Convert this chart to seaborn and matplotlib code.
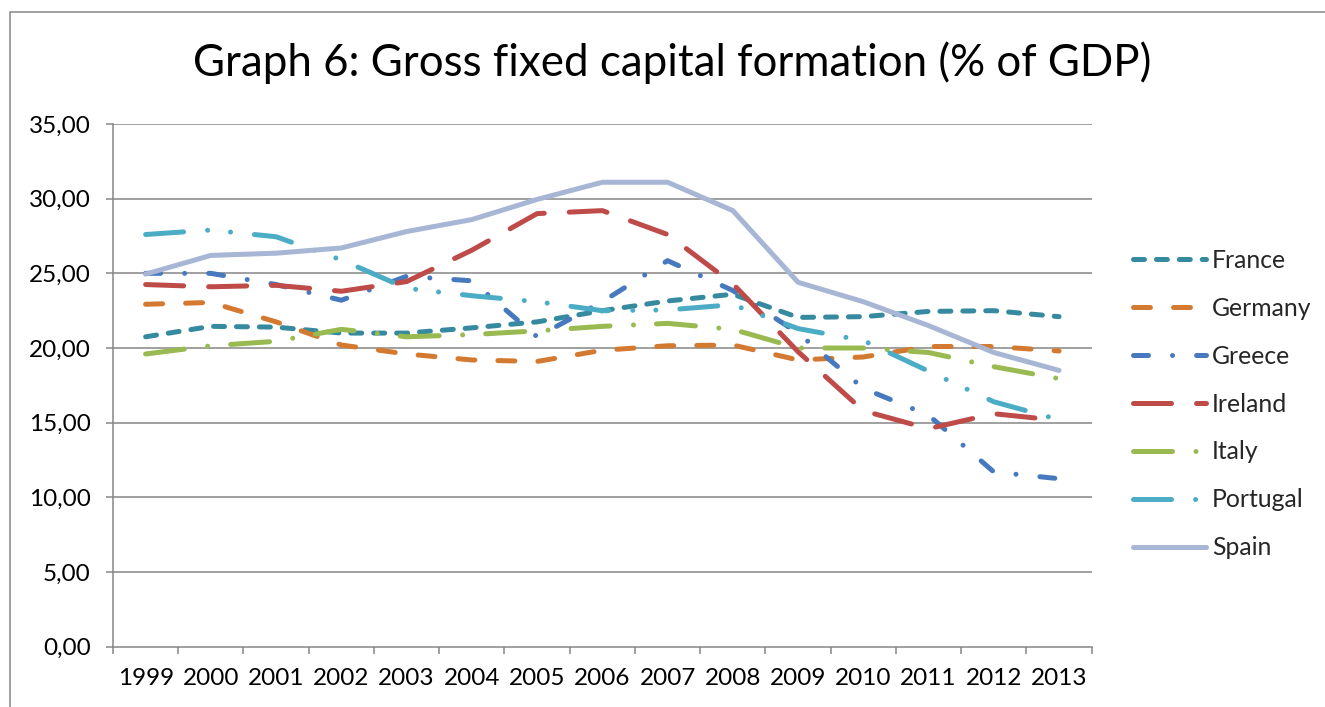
import numpy as np
import pandas as pd
import matplotlib
matplotlib.use("Agg")
import matplotlib.pyplot as plt
import seaborn as sns
from matplotlib.patches import Rectangle
from matplotlib.ticker import FuncFormatter, FixedLocator

# ---------------- data ----------------
years = list(range(1999, 2014))
countries = ["France", "Germany", "Greece", "Ireland", "Italy", "Portugal", "Spain"]
france   = [20.75, 21.45, 21.40, 21.00, 21.00, 21.35, 21.75, 22.50, 23.15, 23.60, 22.05, 22.10, 22.45, 22.50, 22.10]
germany  = [22.93, 23.05, 21.75, 20.20, 19.60, 19.20, 19.10, 19.85, 20.15, 20.20, 19.20, 19.40, 20.10, 20.10, 19.80]
greece   = [25.00, 25.00, 24.25, 23.20, 24.80, 24.50, 20.75, 23.10, 25.85, 23.85, 21.00, 17.30, 15.50, 11.70, 11.25]
ireland  = [24.25, 24.10, 24.20, 23.80, 24.45, 26.55, 29.00, 29.20, 27.60, 24.30, 19.75, 15.80, 14.60, 15.60, 15.15]
italy    = [19.60, 20.15, 20.45, 21.25, 20.75, 20.90, 21.15, 21.45, 21.65, 21.25, 20.00, 20.00, 19.70, 18.75, 17.95]
portugal = [27.60, 27.90, 27.45, 25.90, 24.00, 23.50, 23.10, 22.50, 22.55, 22.90, 21.30, 20.50, 18.45, 16.40, 15.20]
spain    = [24.95, 26.20, 26.35, 26.70, 27.80, 28.60, 29.95, 31.10, 31.10, 29.20, 24.40, 23.10, 21.50, 19.70, 18.50]
series = [france, germany, greece, ireland, italy, portugal, spain]
title = "Graph 6: Gross fixed capital formation (% of GDP)"

# ---------------- styles ----------------
colors = ["#368A9F", "#D47A30", "#4679BD", "#BE4B48", "#98BA50", "#4BACC6", "#A6B6D4"]
dash_styles = [
    (0, (7.9, 8.6)),
    (0, (12.2, 16.6)),
    (0, (10.8, 17.3, 0.01, 17.3)),
    (0, (27.4, 18.0)),
    (0, (28.1, 16.9, 0.01, 16.6)),
    (0, (27.4, 17.3, 0.01, 16.6, 0.01, 17.3)),
    "-",
]

sns.set_theme(style="white")
plt.rcParams["font.family"] = ["Lato", "DejaVu Sans"]
plt.rcParams["lines.scale_dashes"] = False

W, H = 1325, 707
fig = plt.figure(figsize=(W / 100, H / 100), dpi=100)
fig.patch.set_facecolor("white")
ax = fig.add_axes([113 / W, 1 - 646.7 / H, (1091.7 - 113) / W, (646.7 - 124) / H])
ax.set_facecolor("white")

grid_c = "#868686"
for y in range(5, 40, 5):
    ax.axhline(y, color=grid_c, lw=1.1, zorder=0)

for name, vals, col, ls in zip(countries, series, colors, dash_styles):
    df = pd.DataFrame({"Year": years, "Value": vals})
    sns.lineplot(data=df, x="Year", y="Value", ax=ax, color=col, linestyle=ls,
                 linewidth=3.6, errorbar=None, label=name,
                 dash_capstyle="round", solid_capstyle="round", legend=False)

ax.set_xlim(1998.5, 2013.5)
ax.set_ylim(0, 35)
ax.set_xlabel("")
ax.set_ylabel("")

# x: boundary ticks (major, unlabeled), year labels at minor positions
ax.xaxis.set_major_locator(FixedLocator(np.arange(1998.5, 2014.0, 1.0)))
ax.xaxis.set_minor_locator(FixedLocator(years))
ax.set_xticklabels([])
ax.set_xticklabels([str(y) for y in years], minor=True)
ax.tick_params(axis="x", which="major", length=5, width=1.1, color=grid_c, direction="out", bottom=True)
ax.tick_params(axis="x", which="minor", length=0, pad=15, labelsize=17.5, labelcolor="black", bottom=True)

ax.set_yticks(np.arange(0, 36, 5))
ax.yaxis.set_major_formatter(FuncFormatter(lambda v, p: f"{v:.2f}".replace(".", ",")))
ax.tick_params(axis="y", length=5, width=1.1, color=grid_c, direction="out", left=True,
               pad=11, labelsize=17.5, labelcolor="black")

for s in ["top", "right"]:
    ax.spines[s].set_visible(False)
for s in ["left", "bottom"]:
    ax.spines[s].set_color(grid_c)
    ax.spines[s].set_linewidth(1.1)

# legend
handles, labels = ax.get_legend_handles_labels()
leg = ax.legend(handles, labels, loc="center left", bbox_to_anchor=(1133 / W, 1 - 404 / H),
                bbox_transform=fig.transFigure, frameon=False, fontsize=17.8,
                handlelength=2.95, handletextpad=0.25, labelspacing=1.01,
                borderpad=0, borderaxespad=0)

# title
fig.text(672 / W, 1 - 75.7 / H, title, ha="center", va="baseline", fontsize=31.6, color="black")

# outer chart border
fig.patches.append(Rectangle((10 / W, -0.1), 1.5, (H - 12) / H + 0.1, transform=fig.transFigure,
                             fill=False, edgecolor=grid_c, linewidth=1.1, figure=fig))

fig.savefig("out.png", dpi=100)
